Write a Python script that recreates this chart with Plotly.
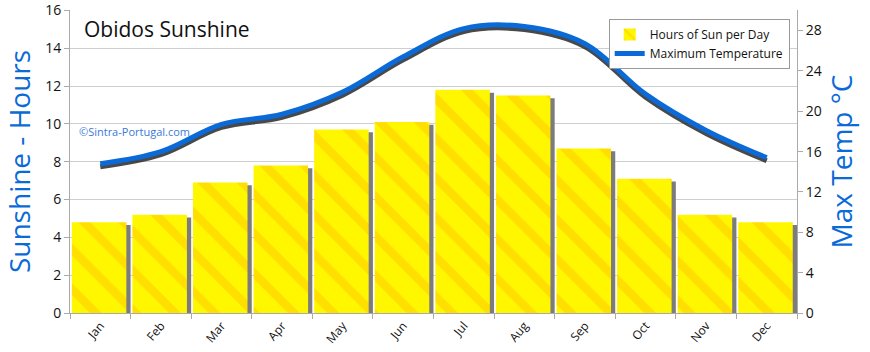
import plotly.graph_objects as go

months = ["Jan", "Feb", "Mar", "Apr", "May", "Jun", "Jul", "Aug", "Sep", "Oct", "Nov", "Dec"]
sun_hours = [4.8, 5.2, 6.9, 7.8, 9.7, 10.1, 11.8, 11.5, 8.7, 7.1, 5.2, 4.8]
max_temp = [14.8, 16.0, 18.7, 19.7, 21.9, 25.4, 28.2, 28.4, 26.7, 21.7, 18.1, 15.4]
left_ticks = [0, 2, 4, 6, 8, 10, 12, 14, 16]
right_ticks = [0, 4, 8, 12, 16, 20, 24, 28]

FONT = "Open Sans"
BLUE = "#0a6ad8"

fig = go.Figure()

# bar shadows
fig.add_trace(go.Bar(
    x=months, y=[v - 0.15 for v in sun_hours], width=0.9, offset=-0.40,
    marker=dict(color="#7c7c7c", line=dict(width=0)),
    showlegend=False, hoverinfo="skip"))

# bars
fig.add_trace(go.Bar(
    x=months, y=sun_hours, width=0.9, offset=-0.47,
    name="Hours of Sun per Day",
    marker=dict(color="#FFF700", line=dict(width=0),
                pattern=dict(shape="\\", fgcolor="#FFB000", fgopacity=0.35,
                             size=28, solidity=0.3, fillmode="overlay")),
))

# line shadow
fig.add_trace(go.Scatter(
    x=months, y=[v - 0.3 for v in max_temp], yaxis="y2", mode="lines",
    line=dict(color="#2a2a2a", width=5, shape="spline", smoothing=1.0),
    opacity=0.85, showlegend=False, hoverinfo="skip"))

# line
fig.add_trace(go.Scatter(
    x=months, y=max_temp, yaxis="y2", mode="lines",
    name="Maximum Temperature",
    line=dict(color=BLUE, width=5, shape="spline", smoothing=1.0)))

fig.update_layout(
    width=870, height=352,
    margin=dict(l=70, r=73, t=10, b=39, autoexpand=False),
    paper_bgcolor="white", plot_bgcolor="white",
    barmode="overlay",
    font=dict(family=FONT, size=13, color="#111"),
    xaxis=dict(
        type="category", tickangle=-50, tickson="boundaries",
        ticks="outside", ticklen=5, tickcolor="#aaa",
        showline=True, linecolor="#aaa", showgrid=False,
        tickfont=dict(size=12, family=FONT), automargin=False,
        range=[-0.5, 11.5]),
    yaxis=dict(
        range=[0, 16.02], tickvals=left_ticks, ticks="outside", ticklen=5,
        tickcolor="#aaa", showline=True, linecolor="#aaa",
        gridcolor="#cfcfcf", gridwidth=1, zeroline=False, automargin=False,
        tickfont=dict(size=14, family=FONT),
        title=dict(text="Sunshine - Hours", font=dict(size=28, color=BLUE, family=FONT), standoff=10)),
    yaxis2=dict(
        overlaying="y", side="right", range=[0, 30.04], tickvals=right_ticks,
        ticks="outside", ticklen=5, tickcolor="#aaa", automargin=False,
        showline=True, linecolor="#aaa", showgrid=False, zeroline=False,
        tickfont=dict(size=14, family=FONT),
        title=dict(text="Max Temp °C", font=dict(size=28, color=BLUE, family=FONT), standoff=10)),
    legend=dict(
        x=0.741, y=0.97, xanchor="left", yanchor="top",
        bgcolor="white", bordercolor="#999", borderwidth=1,
        font=dict(size=12, family=FONT), tracegroupgap=0,
        itemwidth=30),
    annotations=[
        dict(text="Obidos Sunshine", xref="paper", yref="paper", x=0.016, y=0.99,
             xanchor="left", yanchor="top", showarrow=False,
             font=dict(size=21, family=FONT, color="#111")),
        dict(text="©Sintra-Portugal.com", xref="paper", yref="paper", x=0.01, y=0.6,
             xanchor="left", yanchor="middle", showarrow=False,
             font=dict(size=11, family=FONT, color="#3a7ad8")),
    ],
)

fig.write_html("out.html")
